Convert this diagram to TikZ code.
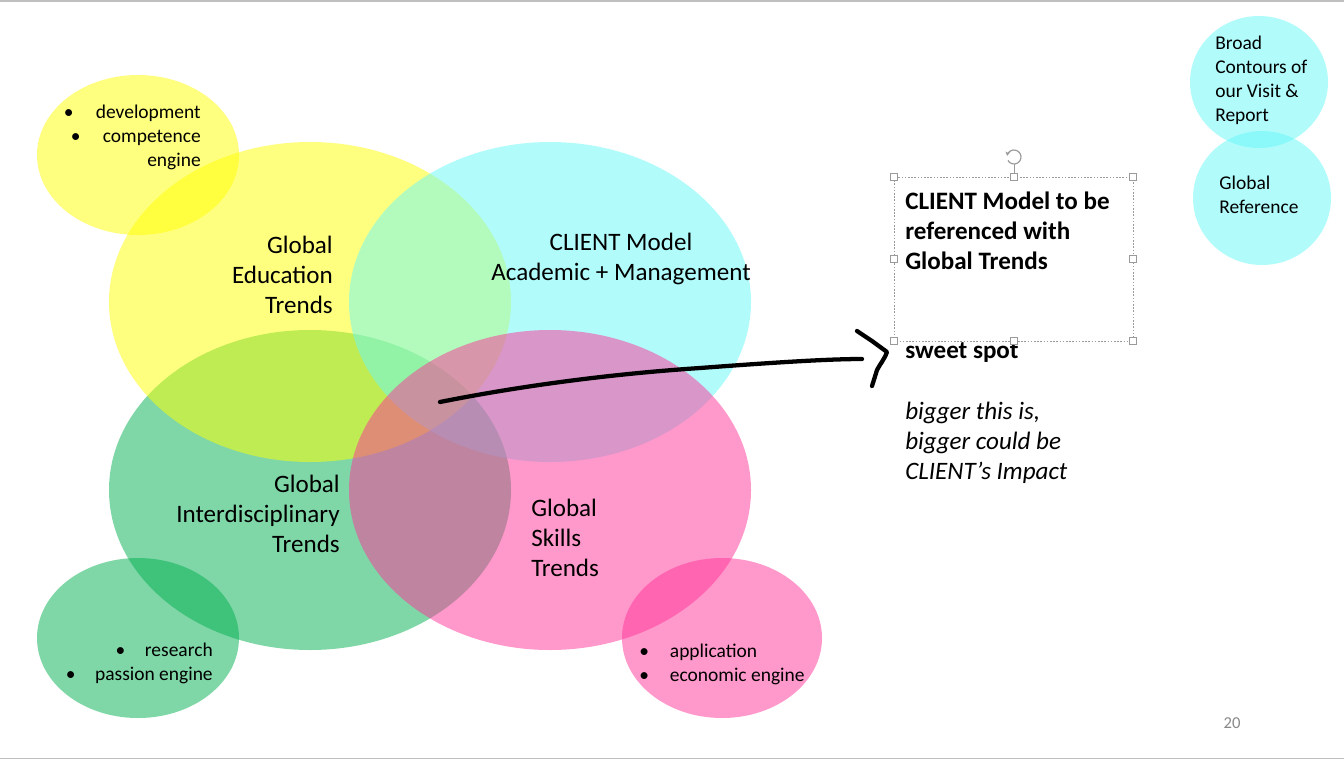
\documentclass[tikz,border=0pt]{standalone}
\usepackage{fontspec}
\setmainfont{Carlito}
\usetikzlibrary{arrows.meta}
\definecolor{cYel}{HTML}{FFFF00}
\definecolor{cCya}{HTML}{66F9F9}
\definecolor{cGrn}{HTML}{00B050}
\definecolor{cPnk}{HTML}{FF3399}
\definecolor{cFrame}{HTML}{BFBFBF}
\definecolor{cHandle}{HTML}{9A9A9A}
\definecolor{cNum}{HTML}{898989}
\tikzset{
  blob/.style={fill opacity=0.5, draw=none},
  bigtxt/.style={font=\fontsize{18.8}{22.5}\selectfont, inner sep=0pt},
  smalltxt/.style={font=\fontsize{14.6}{18}\selectfont, inner sep=0pt},
  handlebox/.style={draw=cHandle, fill=white, line width=0.5pt, minimum size=5.5pt, inner sep=0pt, shape=rectangle},
  ink/.style={line width=3.2pt, line cap=round, line join=round, black}
}
\newcommand{\bul}[1]{\makebox[#1][l]{\textbullet}}
\begin{document}
\begin{tikzpicture}[x=0.75pt,y=-0.75pt]
\useasboundingbox (0,0) rectangle (1344,760);
\fill[white] (0,0) rectangle (1344,760);
\draw[cFrame, line width=1.2pt] (0,0.8) -- (1344,0.8);
\draw[cFrame, line width=1.2pt] (0,758.5) -- (1344,758.5);

% big circles (order: green, yellow, cyan, pink)
\fill[blob, cGrn] (310,490) ellipse [x radius=201, y radius=160];
\fill[blob, cYel] (310,302) ellipse [x radius=201, y radius=160];
\fill[blob, cCya] (550,302) ellipse [x radius=201, y radius=160];
\fill[blob, cPnk] (550,490) ellipse [x radius=201, y radius=160];
% small ellipses
\fill[blob, cYel] (138,155) ellipse [x radius=101, y radius=80];
\fill[blob, cGrn] (138,638) ellipse [x radius=101, y radius=80];
\fill[blob, cPnk] (722,638) ellipse [x radius=100, y radius=80];
% top right circles
\fill[blob, cCya] (1259,82) ellipse [x radius=69, y radius=66];
\fill[blob, cCya] (1262,198) ellipse [x radius=69, y radius=67];

% labels
\node[bigtxt, align=right, anchor=east] (edu) at (333,274.5) {Global\\Education\\Trends};
\node[bigtxt, align=center] (cli) at (621,259) {CLIENT Model\\Academic + Management};
\node[bigtxt, align=right, anchor=east] (inter) at (340,513.5) {Global\\Interdisciplinary\\Trends};
\node[bigtxt, align=left, anchor=west] (skill) at (531,537.5) {Global\\Skills\\Trends};

\node[smalltxt, align=right, anchor=east] (dev) at (201,137.5) {\bul{24pt}development\\\bul{24pt}competence\\engine};
\node[smalltxt, align=right, anchor=east] (res) at (213,663) {\bul{22pt}research\\\bul{22pt}passion engine};
\node[smalltxt, align=left, anchor=west] (app) at (639,664) {\bul{23pt}application\\\bul{23pt}economic engine};

\node[smalltxt, align=left, anchor=west] (broad) at (1215,80.5) {Broad\\Contours of\\our Visit \&\\Report};
\node[smalltxt, align=left, anchor=west] (gref) at (1219,194.5) {Global\\Reference};

\node[bigtxt, align=left, anchor=west, font=\fontsize{18.8}{22.5}\selectfont\bfseries] (model) at (905,230.5) {CLIENT Model to be\\referenced with\\Global Trends};
\node[bigtxt, anchor=west, font=\fontsize{18.8}{22.5}\selectfont\bfseries] (sweet) at (905,353) {sweet spot};
\node[bigtxt, align=left, anchor=west, font=\fontsize{18.8}{22.5}\selectfont\itshape] (bigger) at (905,443) {bigger this is,\\bigger could be\\CLIENT’s Impact};

\node[font=\fontsize{12.5}{15}\selectfont, text=cNum, inner sep=0pt] (pnum) at (1232,723) {20};

% selection frame
\draw[cHandle, line width=0.5pt, dash pattern=on 1.2pt off 1.2pt] (894,177) rectangle (1133,341);
\coordinate (rot) at (1014,157);
\draw[cHandle, line width=0.5pt] (1014,164) -- (1014,177);
\draw[cHandle, line width=0.9pt, -{Stealth[length=3pt,width=3.5pt]}] ([shift={(150:7)}]rot) arc[start angle=150, end angle=-170, radius=7];
\node[handlebox] (h1) at (894,177) {};
\node[handlebox] (h2) at (1014,177) {};
\node[handlebox] (h3) at (1133,177) {};
\node[handlebox] (h4) at (894,259) {};
\node[handlebox] (h5) at (1133,259) {};
\node[handlebox] (h6) at (894,341) {};
\node[handlebox] (h7) at (1014,341) {};
\node[handlebox] (h8) at (1133,341) {};

% freehand pointer
\coordinate (spot) at (440,402);
\coordinate (tip) at (862,359);
\draw[ink] (spot) .. controls (520,386) and (610,374) .. (700,368) .. controls (780,362) and (830,359) .. (tip);
\draw[ink] (857,331) -- (872,341) -- (887,352) .. controls (884,360) and (880,364) .. (877,370) -- (872,386);
\end{tikzpicture}
\end{document}
